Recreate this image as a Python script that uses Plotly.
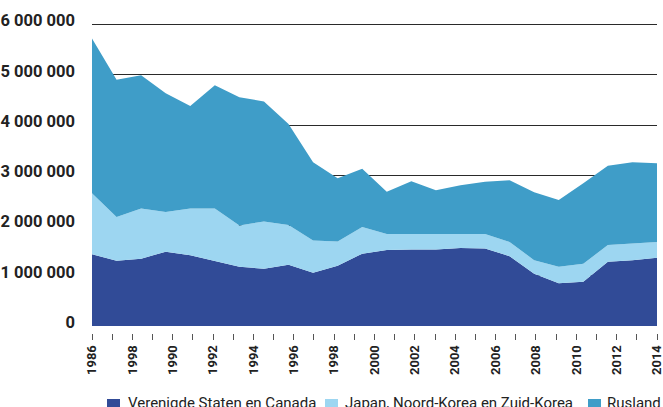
import numpy as np
import plotly.graph_objects as go

# Values in millions, 24 evenly spaced points 1986-2014
us_canada = [1.43, 1.30, 1.34, 1.48, 1.41, 1.30, 1.18, 1.14, 1.22, 1.06, 1.20, 1.44,
             1.51, 1.52, 1.52, 1.55, 1.54, 1.39, 1.04, 0.85, 0.88, 1.28, 1.31, 1.36]
japan_korea = [1.21, 0.87, 1.00, 0.79, 0.93, 1.04, 0.82, 0.94, 0.79, 0.64, 0.48, 0.53,
               0.32, 0.31, 0.32, 0.28, 0.29, 0.28, 0.27, 0.33, 0.36, 0.33, 0.33, 0.31]
russia = [3.08, 2.73, 2.65, 2.36, 2.04, 2.45, 2.55, 2.39, 2.01, 1.56, 1.26, 1.16,
          0.84, 1.05, 0.86, 0.97, 1.04, 1.23, 1.35, 1.33, 1.60, 1.58, 1.62, 1.57]

series_names = ["Verenigde Staten en Canada", "Japan, Noord-Korea en Zuid-Korea", "Rusland"]
series_colors = ["#314b97", "#9dd6f1", "#3f9dc8"]

year_ticks = list(range(1986, 2015))
year_labels = ["1986", "1998", "1990", "1992", "1994", "1996", "1998", "2000",
               "2002", "2004", "2006", "2008", "2010", "2012", "2014"]
y_ticks = [0, 1_000_000, 2_000_000, 3_000_000, 4_000_000, 5_000_000, 6_000_000]
y_labels = ["0", "1 000 000", "2 000 000", "3 000 000", "4 000 000", "5 000 000", "6 000 000"]

x = np.linspace(1986, 2014, len(us_canada))

fig = go.Figure()
for name, vals, col in zip(series_names, [us_canada, japan_korea, russia], series_colors):
    fig.add_trace(go.Scatter(
        x=x, y=np.array(vals) * 1e6, name=name, mode="lines",
        line=dict(width=0, color=col), fillcolor=col,
        stackgroup="one", showlegend=False, hoverinfo="skip"))

x_ticktext = []
li = iter(year_labels)
for yr in year_ticks:
    x_ticktext.append(next(li) if (yr - 1986) % 2 == 0 else "")

W, H = 663, 407
ml, mr, mt, mb = 92, 6, 23, 74
pw, ph = W - ml - mr, H - mt - mb
y_top = 6_030_000

fig.update_layout(
    width=W, height=H,
    margin=dict(l=ml, r=mr, t=mt, b=mb, pad=0, autoexpand=False),
    paper_bgcolor="white", plot_bgcolor="white",
    font=dict(family="Roboto, sans-serif", color="#222"),
    xaxis=dict(range=[1986, 2014], anchor="free", position=0, automargin=False,
               tickmode="array", tickvals=year_ticks, ticktext=x_ticktext,
               ticks="outside", ticklen=6, tickcolor="#555", tickwidth=1,
               tickangle=-90, tickfont=dict(size=13, color="#222", weight="bold"),
               ticklabeloverflow="allow",
               showgrid=False, zeroline=False, showline=False),
    yaxis=dict(range=[0, y_top], domain=[7 / ph, 1], automargin=False,
               tickmode="array", tickvals=y_ticks, ticktext=y_labels,
               ticks="", ticklabelstandoff=16, ticklabelshift=-4,
               ticklabeloverflow="allow",
               tickfont=dict(size=16.5, color="#222", weight="bold"),
               showgrid=True, gridcolor="#2a2a2a", gridwidth=1,
               zeroline=False, showline=False),
)

# Manual legend (square swatches + labels)
legend_x_swatch = [107, 325, 588]
legend_x_text = [126, 343, 605]
for sx, tx, name, col in zip(legend_x_swatch, legend_x_text, series_names, series_colors):
    fig.add_shape(type="rect", xref="paper", yref="paper",
                  x0=(sx - ml) / pw, x1=(sx + 13 - ml) / pw,
                  y0=(H - mb - 412) / ph, y1=(H - mb - 399) / ph,
                  fillcolor=col, line=dict(width=0))
    fig.add_annotation(xref="paper", yref="paper", x=(tx - ml) / pw, y=(H - mb - 403) / ph,
                       xanchor="left", yanchor="middle", showarrow=False,
                       text=name, font=dict(size=15, color="#222"))

fig.write_html("out.html", config={"displayModeBar": False, "staticPlot": True},
               post_script="document.body.style.margin='0';document.body.style.overflow='hidden';")
